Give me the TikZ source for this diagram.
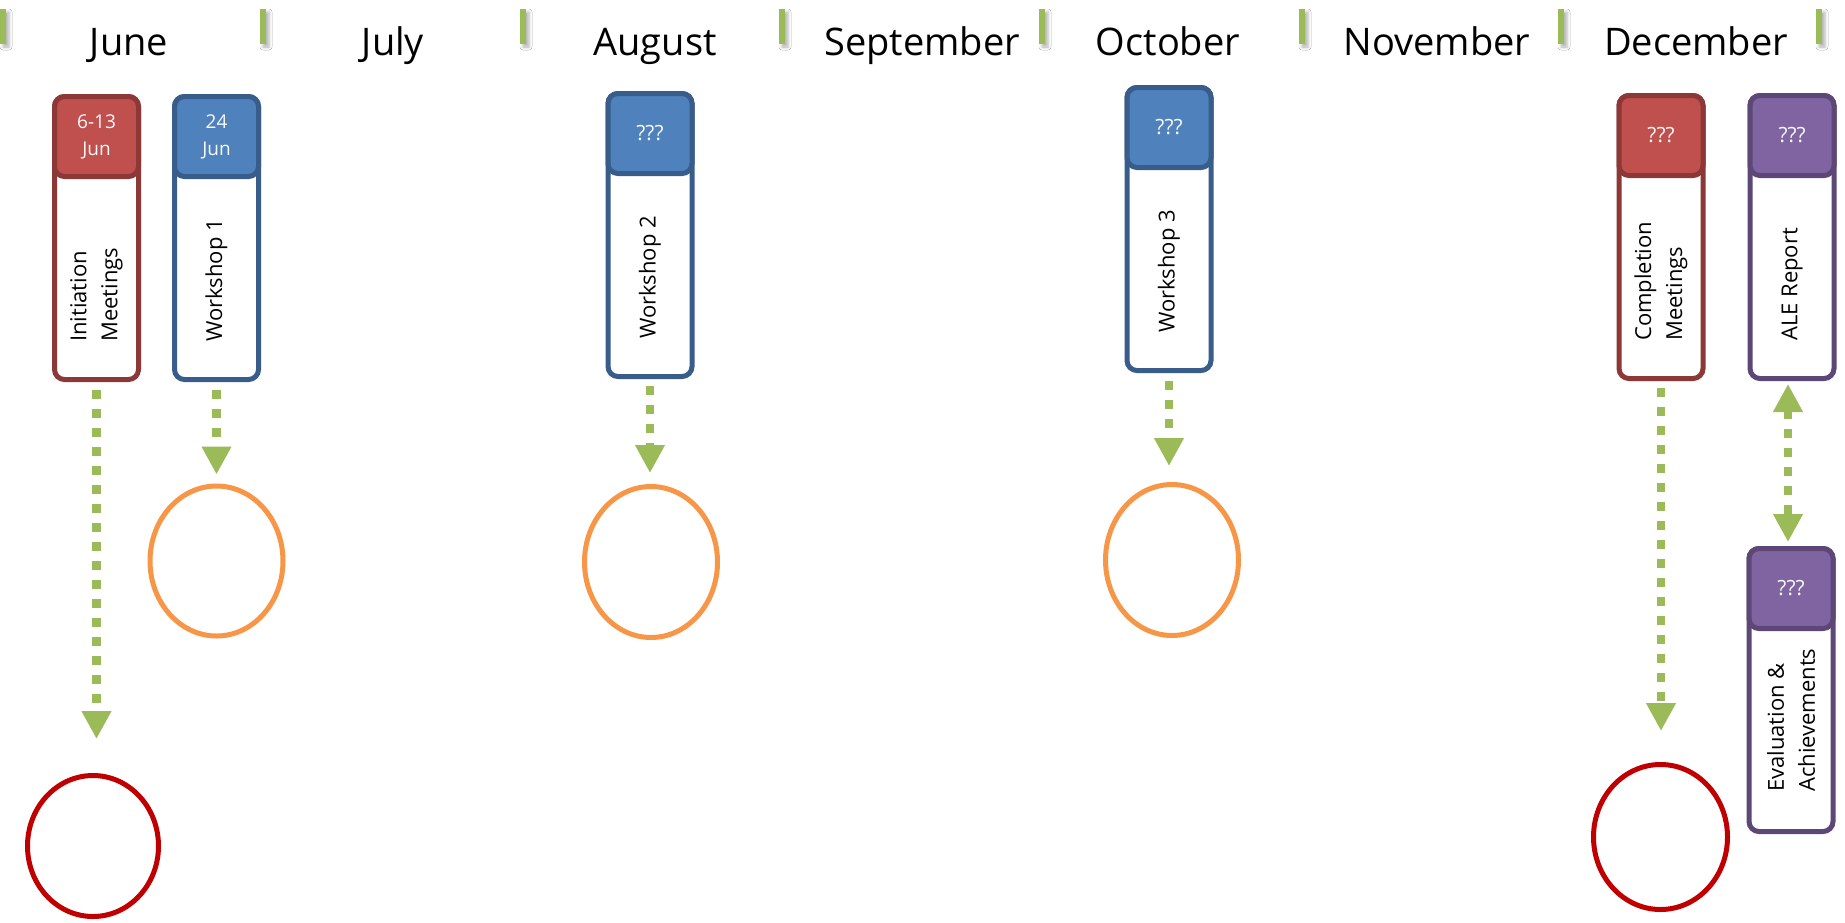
\documentclass[tikz,border=0pt]{standalone}
\usepackage{fontspec}
\setmainfont{Open Sans}
\usetikzlibrary{arrows.meta,shapes.geometric,shadows.blur}
\definecolor{grn}{HTML}{9BBB59}
\definecolor{redF}{HTML}{C0504D}
\definecolor{redB}{HTML}{8C3836}
\definecolor{bluF}{HTML}{4F81BD}
\definecolor{bluB}{HTML}{385D8A}
\definecolor{purF}{HTML}{8064A2}
\definecolor{purB}{HTML}{5C4776}
\definecolor{orng}{HTML}{F79646}
\definecolor{dred}{HTML}{C00000}
\tikzset{
  tickbar/.style={fill=grn, draw=none, minimum width=6pt, minimum height=35pt, inner sep=0pt,
    blur shadow={shadow xshift=3pt, shadow yshift=-3pt, shadow blur radius=3pt, shadow opacity=30}},
  month/.style={font=\fontsize{38}{44}\selectfont, text=black, inner sep=0pt, anchor=base},
  card/.style={draw=#1, fill=white, line width=5pt, rounded corners=10pt, minimum width=84pt,
    minimum height=283pt, inner sep=0pt},
  head/.style 2 args={draw=#2, fill=#1, line width=5pt, rounded corners=10pt, minimum width=84pt,
    minimum height=80pt, inner sep=0pt, anchor=north, text=white!95!gray, align=center,
    font=\fontsize{19}{27}\selectfont},
  bodytext/.style={rotate=90, anchor=west, inner sep=0pt, align=left, text=black,
    font=\fontsize{22}{31}\selectfont},
  ring/.style={ellipse, draw=#1, line width=5pt, inner sep=0pt, fill=none},
  conn/.style={draw=grn, line width=8.5pt, dash pattern=on 9pt off 10pt,
    -{Triangle[width=28pt,length=28pt]}},
  conn2/.style={draw=grn, line width=8.5pt, dash pattern=on 9pt off 10pt,
    {Triangle[width=28pt,length=28pt]}-{Triangle[width=28pt,length=28pt]}}
}
\begin{document}
\begin{tikzpicture}[x=1pt,y=-1pt]
\useasboundingbox (0,0) rectangle (1845,922);
\fill[white] (0,0) rectangle (1845,922);

% ticks
\node[tickbar] (t1) at (3,26.5) {};
\node[tickbar] (t2) at (263,26.5) {};
\node[tickbar] (t3) at (523,26.5) {};
\node[tickbar] (t4) at (782,26.5) {};
\node[tickbar] (t5) at (1042,26.5) {};
\node[tickbar] (t6) at (1302,26.5) {};
\node[tickbar] (t7) at (1561,26.5) {};
\node[tickbar] (t8) at (1819,26.5) {};

% months
\node[month] (m1) at (129,55) {June};
\node[month] (m2) at (393,55) {July};
\node[month] (m3) at (655,55) {August};
\node[month] (m4) at (922,55) {September};
\node[month] (m5) at (1168,55) {October};
\node[month] (m6) at (1437,55) {November};
\node[month] (m7) at (1696,55) {December};

% cards
\node[card=redB] (init) at (96.5,238) {};
\node[head={redF}{redB}] (inithd) at (init.north) {6-13\\Jun};
\node[bodytext] (inittx) at ([yshift=40pt]init.south) {Initiation\\Meetings};

\node[card=bluB] (ws1) at (216.5,238) {};
\node[head={bluF}{bluB}] (ws1hd) at (ws1.north) {24\\Jun};
\node[bodytext] (ws1tx) at ([yshift=40pt]ws1.south) {Workshop 1};

\node[card=bluB] (ws2) at (650,235) {};
\node[head={bluF}{bluB}] (ws2hd) at (ws2.north) {\fontsize{21}{27}\selectfont ???};
\node[bodytext] (ws2tx) at ([yshift=40pt]ws2.south) {Workshop 2};

\node[card=bluB] (ws3) at (1169,229) {};
\node[head={bluF}{bluB}] (ws3hd) at (ws3.north) {\fontsize{21}{27}\selectfont ???};
\node[bodytext] (ws3tx) at ([yshift=40pt]ws3.south) {Workshop 3};

\node[card=redB] (comp) at (1661,237) {};
\node[head={redF}{redB}] (comphd) at (comp.north) {\fontsize{21}{27}\selectfont ???};
\node[bodytext] (comptx) at ([yshift=40pt]comp.south) {Completion\\Meetings};

\node[card=purB] (ale) at (1792,237) {};
\node[head={purF}{purB}] (alehd) at (ale.north) {\fontsize{21}{27}\selectfont ???};
\node[bodytext] (aletx) at ([yshift=40pt]ale.south) {ALE Report};

\node[card=purB] (eval) at (1791,690) {};
\node[head={purF}{purB}] (evalhd) at (eval.north) {\fontsize{21}{27}\selectfont ???};
\node[bodytext] (evaltx) at ([yshift=42pt]eval.south) {Evaluation \&\\Achievements};

% circles
\node[ring=dred, minimum width=131pt, minimum height=141pt] (initc) at (93,846) {};
\node[ring=orng, minimum width=133pt, minimum height=150pt] (ws1c) at (216.5,561) {};
\node[ring=orng, minimum width=133pt, minimum height=151pt] (ws2c) at (651,562) {};
\node[ring=orng, minimum width=133pt, minimum height=151pt] (ws3c) at (1172,560) {};
\node[ring=dred, minimum width=134pt, minimum height=145pt] (compc) at (1660.5,837) {};

% connectors
\draw[conn, shorten <=8pt, shorten >=34pt] (init.south) -- (init.south |- initc.north);
\draw[conn, shorten <=8pt, shorten >=9pt] (ws1.south) -- (ws1.south |- ws1c.north);
\draw[conn, shorten <=7pt, shorten >=11pt] (ws2.south) -- (ws2.south |- ws2c.north);
\draw[conn, shorten <=8pt, shorten >=16pt] (ws3.south) -- (ws3.south |- ws3c.north);
\draw[conn, shorten <=7pt, shorten >=31pt] (comp.south) -- (comp.south |- compc.north);
\draw[conn2, shorten <=3pt, shorten >=4pt] ([xshift=-4pt]ale.south) -- ([xshift=-4pt]ale.south |- eval.north);
\end{tikzpicture}
\end{document}
